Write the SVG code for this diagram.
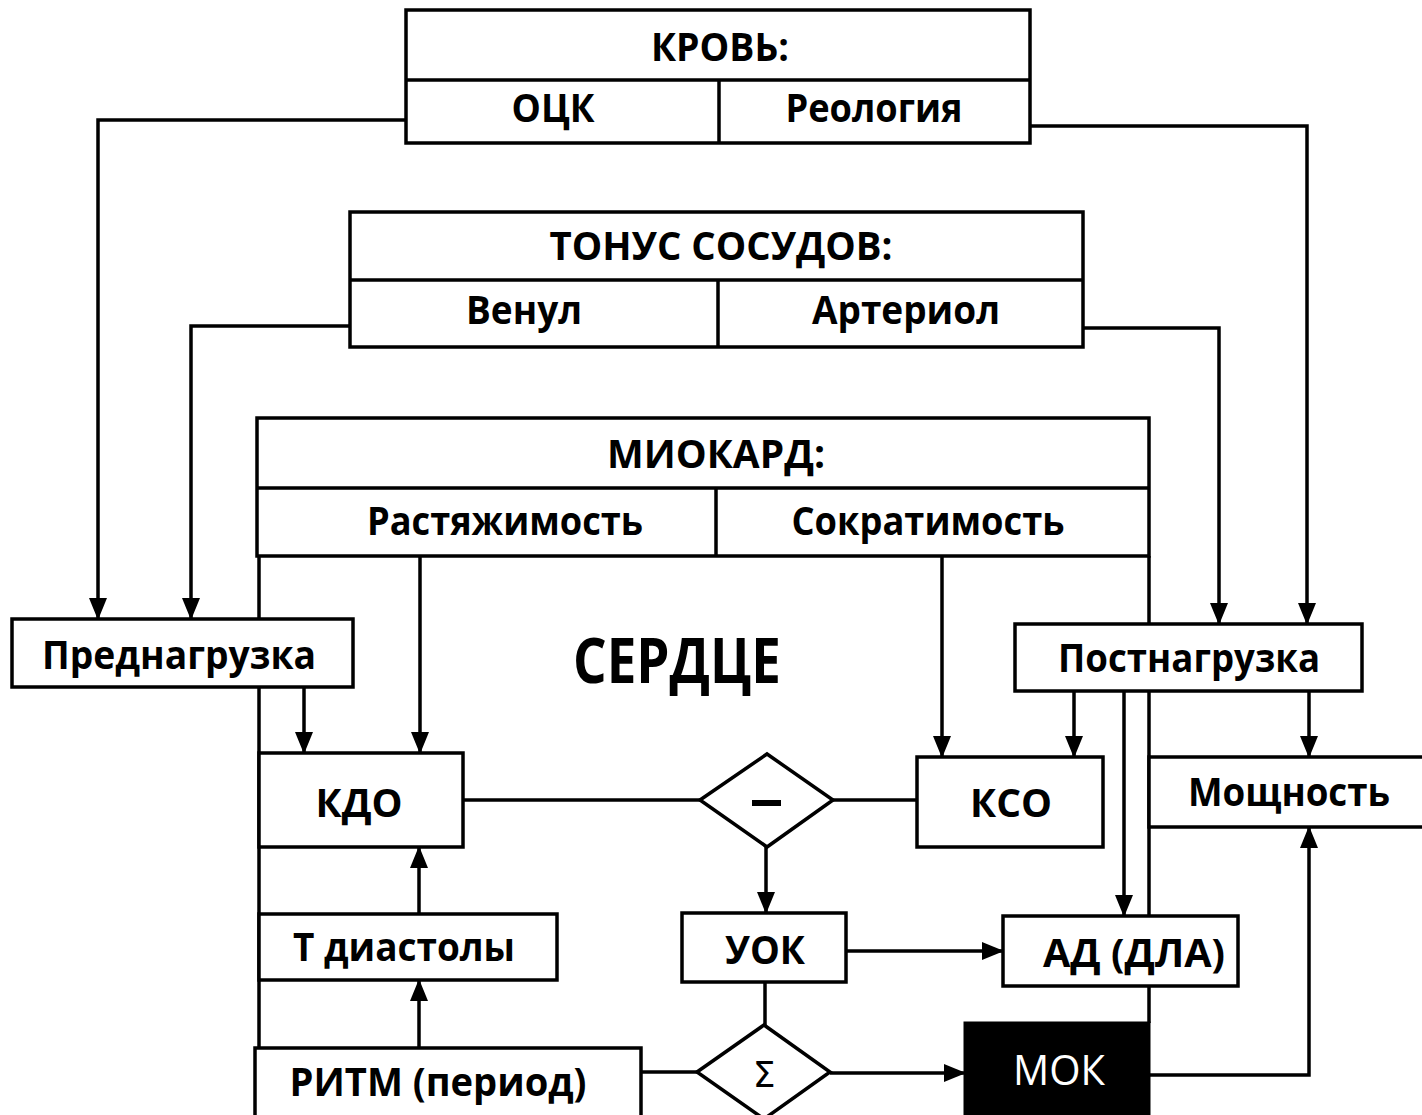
<svg xmlns="http://www.w3.org/2000/svg" width="1422" height="1115" viewBox="0 0 1422 1115">
<style>
.box{fill:#fff;stroke:#000;stroke-width:3.5}
.ln{fill:none;stroke:#000;stroke-width:3.5}
.t{font-family:"Open Sans","Liberation Sans",sans-serif;font-weight:bold;font-size:40px;fill:#000;text-anchor:middle}
.big{font-size:63px}
.mok{font-weight:normal;fill:#fff;font-size:42px}
</style>
<defs>
<marker id="ah" markerUnits="userSpaceOnUse" viewBox="0 0 22 18" markerWidth="22" markerHeight="18" refX="21" refY="9" orient="auto">
<path d="M0,0 L22,9 L0,18 z" fill="#000"/>
</marker>
</defs>
<rect width="1422" height="1115" fill="#fff"/>

<g id="heart-outline">
<path class="ln" d="M259,556 V1115"/>
<path class="ln" d="M1149,556 V1023"/>
</g>

<g id="connectors">
<path class="ln" marker-end="url(#ah)" d="M406,120 H98 V619"/>
<path class="ln" marker-end="url(#ah)" d="M1030,126 H1307 V624"/>
<path class="ln" marker-end="url(#ah)" d="M350,326 H191 V619"/>
<path class="ln" marker-end="url(#ah)" d="M1083,328 H1219 V624"/>
<path class="ln" marker-end="url(#ah)" d="M420,556 V753"/>
<path class="ln" marker-end="url(#ah)" d="M942,556 V757"/>
<path class="ln" marker-end="url(#ah)" d="M304,687 V753"/>
<path class="ln" marker-end="url(#ah)" d="M1074,691 V757"/>
<path class="ln" marker-end="url(#ah)" d="M1309,691 V757"/>
<path class="ln" marker-end="url(#ah)" d="M1124,691 V916"/>
<path class="ln" d="M463,800 H700"/>
<path class="ln" d="M833,800 H917"/>
<path class="ln" marker-end="url(#ah)" d="M766,847 V913"/>
<path class="ln" marker-end="url(#ah)" d="M846,951 H1003"/>
<path class="ln" d="M765,982 V1025"/>
<path class="ln" marker-end="url(#ah)" d="M830,1073 H965"/>
<path class="ln" d="M641,1072 H697"/>
<path class="ln" marker-end="url(#ah)" d="M1149,1075 H1309 V827"/>
<path class="ln" marker-end="url(#ah)" d="M419,1048 V980"/>
<path class="ln" marker-end="url(#ah)" d="M419,914 V847"/>
</g>

<g id="krov">
<rect class="box" x="406" y="10" width="624" height="133"/>
<path class="ln" d="M406,80 H1030 M719,80 V143"/>
<text class="t" x="720" y="61" textLength="138" lengthAdjust="spacingAndGlyphs">КРОВЬ:</text>
<text class="t" x="553" y="122" textLength="83" lengthAdjust="spacingAndGlyphs">ОЦК</text>
<text class="t" x="874" y="122" textLength="177" lengthAdjust="spacingAndGlyphs">Реология</text>
</g>

<g id="tonus">
<rect class="box" x="350" y="212" width="733" height="135"/>
<path class="ln" d="M350,280 H1083 M718,280 V347"/>
<text class="t" x="721" y="260" textLength="343" lengthAdjust="spacingAndGlyphs">ТОНУС СОСУДОВ:</text>
<text class="t" x="524" y="324" textLength="116" lengthAdjust="spacingAndGlyphs">Венул</text>
<text class="t" x="906" y="324" textLength="188" lengthAdjust="spacingAndGlyphs">Артериол</text>
</g>

<g id="miokard">
<rect class="box" x="257" y="418" width="892" height="138"/>
<path class="ln" d="M257,488 H1149 M716,488 V556"/>
<text class="t" x="716" y="468" textLength="218" lengthAdjust="spacingAndGlyphs">МИОКАРД:</text>
<text class="t" x="505" y="535" textLength="276" lengthAdjust="spacingAndGlyphs">Растяжимость</text>
<text class="t" x="928" y="535" textLength="273" lengthAdjust="spacingAndGlyphs">Сократимость</text>
</g>

<g id="serdce">
<text class="t big" x="677" y="683" textLength="208" lengthAdjust="spacingAndGlyphs">СЕРДЦЕ</text>
</g>

<g id="prednagruzka">
<rect class="box" x="12" y="619" width="341" height="68"/>
<text class="t" x="179" y="669" textLength="274" lengthAdjust="spacingAndGlyphs">Преднагрузка</text>
</g>

<g id="postnagruzka">
<rect class="box" x="1015" y="624" width="347" height="67"/>
<text class="t" x="1189" y="672" textLength="262" lengthAdjust="spacingAndGlyphs">Постнагрузка</text>
</g>

<g id="kdo">
<rect class="box" x="259" y="753" width="204" height="94"/>
<text class="t" x="359" y="817" textLength="87" lengthAdjust="spacingAndGlyphs">КДО</text>
</g>

<g id="minus">
<polygon class="box" points="700,800 767,754 833,800 767,847"/>
<path d="M752,803 H781" stroke="#000" stroke-width="6"/>
</g>

<g id="kso">
<rect class="box" x="917" y="757" width="186" height="90"/>
<text class="t" x="1011" y="817" textLength="82" lengthAdjust="spacingAndGlyphs">КСО</text>
</g>

<g id="moshnost">
<rect class="box" x="1149" y="757" width="276" height="70"/>
<text class="t" x="1289" y="806" textLength="202" lengthAdjust="spacingAndGlyphs">Мощность</text>
</g>

<g id="t-diastoly">
<rect class="box" x="259" y="914" width="298" height="66"/>
<text class="t" x="404" y="961" textLength="222" lengthAdjust="spacingAndGlyphs">Т диастолы</text>
</g>

<g id="uok">
<rect class="box" x="682" y="913" width="164" height="69"/>
<text class="t" x="765" y="964" textLength="80" lengthAdjust="spacingAndGlyphs">УОК</text>
</g>

<g id="ad">
<rect class="box" x="1003" y="916" width="235" height="70"/>
<text class="t" x="1134" y="967" textLength="182" lengthAdjust="spacingAndGlyphs">АД (ДЛА)</text>
</g>

<g id="sigma">
<polygon class="box" points="697,1072 764,1025 830,1072 764,1119"/>
<text class="t" x="764" y="1087" style="font-family:'DejaVu Sans','Liberation Sans',sans-serif;font-size:36px;font-weight:normal">Σ</text>
</g>

<g id="ritm">
<rect class="box" x="255" y="1048" width="386" height="70"/>
<text class="t" x="438" y="1096" textLength="297" lengthAdjust="spacingAndGlyphs">РИТМ (период)</text>
</g>

<g id="mok">
<rect x="965" y="1023" width="184" height="95" fill="#000" stroke="#000" stroke-width="3"/>
<text class="t mok" x="1059" y="1085" textLength="92" lengthAdjust="spacingAndGlyphs">МОК</text>
</g>
</svg>
